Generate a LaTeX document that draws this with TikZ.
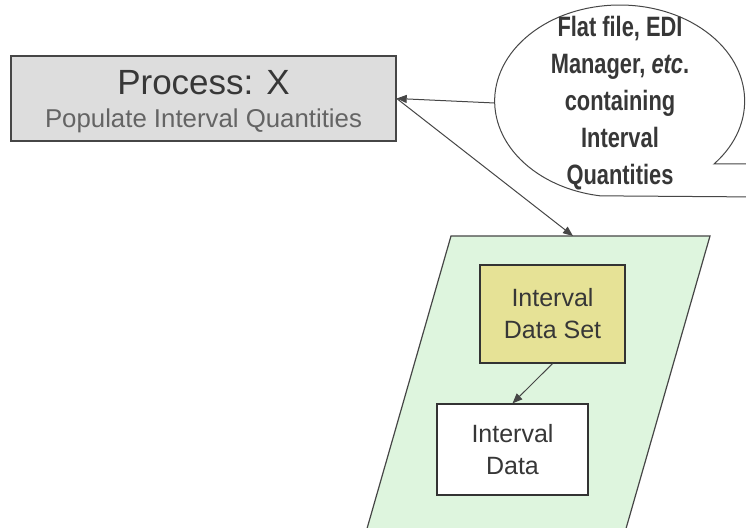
\documentclass[tikz,border=0pt]{standalone}
\usepackage{fontspec}
\setmainfont{Liberation Sans}
\newfontfamily\narrowbold[FakeStretch=0.78]{Liberation Sans}
\usetikzlibrary{arrows.meta, positioning, shapes.geometric}
\definecolor{lineGray}{RGB}{70, 70, 70}
\definecolor{textGray}{RGB}{55, 55, 55}
\definecolor{subGray}{RGB}{100, 100, 100}
\definecolor{procFill}{RGB}{221, 221, 221}
\definecolor{setYellow}{RGB}{230, 226, 150}
\definecolor{storeGreen}{RGB}{222, 245, 222}

\begin{document}
\begin{tikzpicture}[
    x=0.5pt, y=-0.5pt,
    procbox/.style={
      rectangle, draw=lineGray, fill=procFill, line width=0.7pt,
      minimum width=192.5pt, minimum height=42.5pt, inner sep=0pt
    },
    databox/.style={
      rectangle, draw=black!80, fill=white, line width=0.6pt,
      minimum width=75.5pt, minimum height=45.5pt, align=center,
      text=textGray, inner sep=0pt,
      font=\fontsize{12.5}{16}\selectfont
    },
    arrow/.style={-{Triangle[length=5pt, width=4pt]}, lineGray, line width=0.5pt},
    bubble/.style={draw=lineGray, fill=white, line width=0.5pt}
  ]
    \useasboundingbox (0,0) rectangle (746,528);

    % Data store
    \fill[storeGreen] (451,236) -- (710,236) -- (617,560) -- (358,560) -- cycle;
    \draw[lineGray, line width=0.6pt] (358,560) -- (451,236) -- (710,236) -- (617,560);
    \coordinate (storetop) at (573,236);

    % Process
    \node[procbox] (process) at (203.5,98.5) {};
    \node[anchor=base, inner sep=0pt, text=textGray, font=\fontsize{17.5}{19}\selectfont]
      (proctitle) at (203.5,95) {Process: X};
    \node[anchor=base, inner sep=0pt, text=subGray, font=\fontsize{12.9}{14}\selectfont]
      (procname) at (203.5,128) {Populate Interval Quantities};

    % Source callout
    \draw[bubble] (714,164) arc[start angle=41, end angle=-261, x radius=125, y radius=96]
      -- (760,197) -- (760,164) -- cycle;
    \node[ellipse, minimum width=125pt, minimum height=96pt, inner sep=0pt,
      align=center, text=textGray,
      font=\narrowbold\bfseries\fontsize{14}{18.5}\selectfont]
      (source) at (620,103)
      {Flat file, EDI\\Manager, \textit{etc}.\\containing\\Interval\\Quantities};

    % Contents of store
    \node[databox, fill=setYellow, minimum width=72.5pt, minimum height=49pt]
      (dataset) at (552.5,314) {Interval\\Data Set};
    \node[databox] (data) at (512.5,449.5) {Interval\\Data};

    % Arrows
    \draw[arrow] (source.west) -- (process.east);
    \draw[arrow] (process.east) -- (storetop);
    \draw[arrow] (dataset.south) -- (data.north);
  \end{tikzpicture}
\end{document}
